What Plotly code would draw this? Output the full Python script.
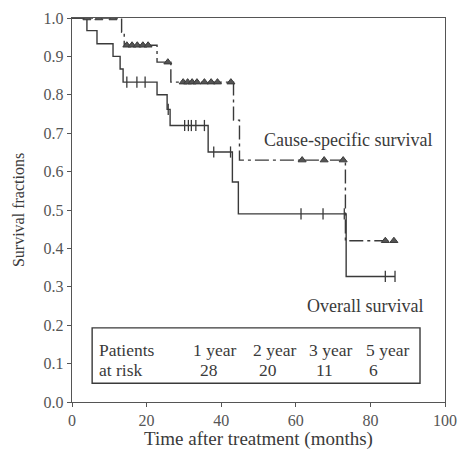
import plotly.graph_objects as go

# ---- data ----
# Cause-specific survival: step curve (time in months, survival fraction)
css_time = [0, 13.3, 14.0, 22.8, 26.5, 43.3, 44.9, 73.3, 86.3]
css_surv = [1.0, 0.963, 0.929, 0.885, 0.833, 0.734, 0.63, 0.42, 0.42]
# censored observations (triangles)
css_cens_time = [4.0, 7.2, 11.0, 14.7, 16.1, 17.5, 19.0, 20.4, 25.7,
                 29.8, 31.0, 32.2, 33.5, 35.5, 37.3, 39.0, 42.6,
                 61.7, 67.6, 72.7, 84.0, 86.3]
css_cens_surv = [1.0, 1.0, 1.0, 0.929, 0.929, 0.929, 0.929, 0.929, 0.885,
                 0.833, 0.833, 0.833, 0.833, 0.833, 0.833, 0.833, 0.833,
                 0.63, 0.63, 0.63, 0.42, 0.42]

# Overall survival
os_time = [0, 4.0, 6.7, 11.0, 12.9, 13.7, 22.8, 25.5, 26.3, 36.5, 43.0, 44.6, 73.5, 86.6]
os_surv = [1.0, 0.967, 0.933, 0.900, 0.867, 0.833, 0.800, 0.762, 0.720, 0.651, 0.573, 0.49, 0.327, 0.327]
os_cens_time = [14.7, 17.4, 19.6, 25.8, 30.2, 31.2, 32.0, 33.2, 35.5, 38.0, 42.5,
                61.4, 67.3, 73.0, 84.0, 86.6]
os_cens_surv = [0.833, 0.833, 0.833, 0.762, 0.72, 0.72, 0.72, 0.72, 0.72, 0.651, 0.651,
                0.49, 0.49, 0.49, 0.327, 0.327]

# patients at risk table
risk_labels = ["1 year", "2 year", "3 year", "5 year"]
risk_counts = [28, 20, 11, 6]

x_ticks = [0, 20, 40, 60, 80, 100]
y_ticks = [0.0, 0.1, 0.2, 0.3, 0.4, 0.5, 0.6, 0.7, 0.8, 0.9, 1.0]

# ---- figure ----
SERIF = "Liberation Serif"
INK = "#3a3a3a"
GREY = "#555"

fig = go.Figure()
fig.add_trace(go.Scatter(x=os_time, y=os_surv, mode="lines", line_shape="hv",
                         line=dict(color=INK, width=1.4), showlegend=False))
fig.add_trace(go.Scatter(x=css_time, y=css_surv, mode="lines", line_shape="hv",
                         line=dict(color=INK, width=1.4, dash="14px,4px,3px,4px"),
                         showlegend=False))
fig.add_trace(go.Scatter(x=os_cens_time, y=os_cens_surv, mode="markers",
                         marker=dict(symbol="line-ns-open", size=8, color=INK,
                                     line=dict(color=INK, width=1.3)),
                         showlegend=False))
fig.add_trace(go.Scatter(x=css_cens_time, y=css_cens_surv, mode="markers",
                         marker=dict(symbol="triangle-up", size=7, color=GREY,
                                     line=dict(color=INK, width=1)),
                         showlegend=False))

annotations = [
    dict(x=74, y=0.682, text="Cause-specific survival", showarrow=False,
         font=dict(family=SERIF, size=18, color=INK)),
    dict(x=78.5, y=0.25, text="Overall survival", showarrow=False,
         font=dict(family=SERIF, size=18, color=INK)),
    dict(x=6.6, y=0.135, text="Patients", showarrow=False, xanchor="left",
         font=dict(family=SERIF, size=17.5, color=INK)),
    dict(x=6.6, y=0.083, text="at risk", showarrow=False, xanchor="left",
         font=dict(family=SERIF, size=17.5, color=INK)),
]
label_x = [38.3, 54.4, 69.4, 84.5]
count_x = [36.6, 52.6, 67.8, 80.9]
for lx, cx, lab, cnt in zip(label_x, count_x, risk_labels, risk_counts):
    annotations.append(dict(x=lx, y=0.135, text=lab, showarrow=False,
                            font=dict(family=SERIF, size=17.5, color=INK)))
    annotations.append(dict(x=cx, y=0.083, text=str(cnt), showarrow=False,
                            font=dict(family=SERIF, size=17.5, color=INK)))

fig.update_layout(
    width=460, height=450,
    margin=dict(l=72, r=15, t=18, b=48),
    paper_bgcolor="white", plot_bgcolor="white",
    annotations=annotations,
    shapes=[dict(type="rect", xref="x", yref="y", x0=5.4, x1=93.3, y0=0.049, y1=0.193,
                 line=dict(color=INK, width=1.4))],
    xaxis=dict(range=[0, 100], tickvals=x_ticks, showgrid=False, zeroline=False,
               showline=True, linecolor=GREY, linewidth=1.4, mirror=True,
               ticks="outside", ticklen=4, tickcolor=GREY, automargin=False,
               tickfont=dict(family=SERIF, size=16, color=GREY),
               title=dict(text="Time after treatment (months)", standoff=5,
                          font=dict(family=SERIF, size=19, color=INK))),
    yaxis=dict(range=[0, 1.0], tickvals=y_ticks, tickformat=".1f", showgrid=False,
               zeroline=False, showline=True, linecolor=GREY, linewidth=1.4,
               mirror=True, ticks="outside", ticklen=4, tickcolor=GREY, automargin=False,
               tickfont=dict(family=SERIF, size=16, color=GREY),
               title=dict(text="Survival fractions", standoff=14,
                          font=dict(family=SERIF, size=16, color=INK))),
)

fig.write_html("out.html")
